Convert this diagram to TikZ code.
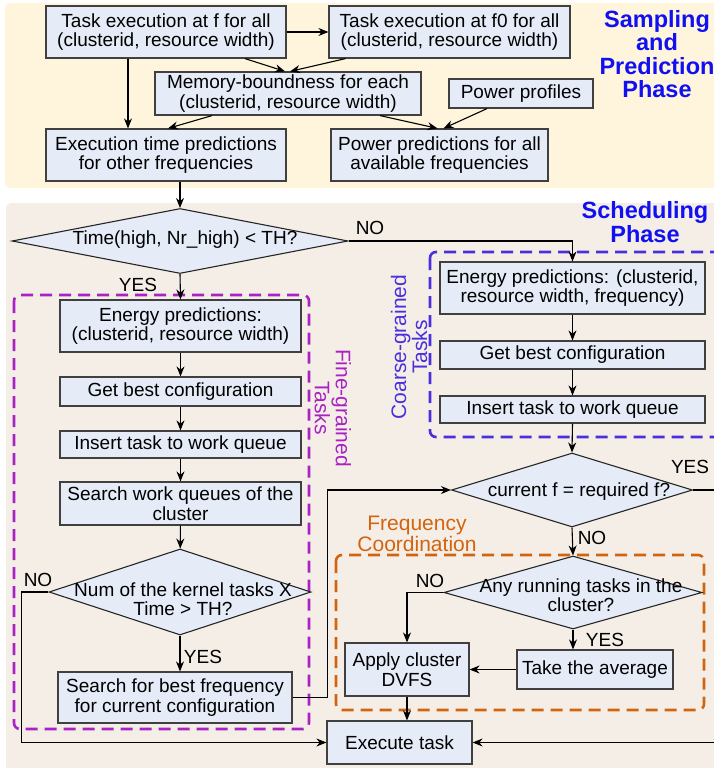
\documentclass[tikz,border=0pt]{standalone}
\usepackage{fontspec}
\setmainfont{Liberation Sans}
\usepackage{xcolor}
\usetikzlibrary{positioning,shapes,arrows.meta,shapes.geometric}

\definecolor{boxfill}{HTML}{E5ECF7}
\definecolor{creambg}{HTML}{FFF5DC}
\definecolor{beigebg}{HTML}{F5EEE7}
\definecolor{finecol}{HTML}{A822C4}
\definecolor{coarsecol}{HTML}{4A30DC}
\definecolor{freqcol}{HTML}{D2640F}
\definecolor{phasecol}{HTML}{1010F0}

\newcommand{\fsz}{\fontsize{19}{19.5}\selectfont}

\begin{document}
\begin{tikzpicture}[x=1pt,y=-1pt,
    box/.style={draw=black!75, line width=1.2pt, fill=boxfill, align=center, inner sep=1pt, font=\fsz},
    dec/.style={diamond, draw=black!85, line width=1.1pt, fill=boxfill, inner sep=0pt},
    txt/.style={align=center, inner sep=0pt, font=\fsz},
    lbl/.style={inner sep=0pt, font=\fsz},
    arr/.style={line width=1.1pt, -{Stealth[length=10pt,width=8pt]}},
    grp/.style={line width=2.6pt, dash pattern=on 12pt off 7pt, rounded corners=6pt},
    phase/.style={align=center, inner sep=0pt, text=phasecol, font=\fontsize{23.5}{23.5}\selectfont\bfseries}]
                \clip (0,0) rectangle (714,768);
                % backgrounds of the two phases
                \fill[creambg, rounded corners=5pt] (5,3) rectangle (740,188);
                \fill[beigebg, rounded corners=5pt] (6,203) rectangle (740,800);
                \node[phase] (sampling) at (657,54) {Sampling\\and\\Prediction\\Phase};
                \node[phase] (scheduling) at (645,222) {Scheduling\\Phase};

                % dashed task groups
                \draw[grp, finecol] (14,295) rectangle (309,729);
                \draw[grp, coarsecol] (430,252) rectangle (740,437);
                \draw[grp, freqcol] (336,555) rectangle (704,710);
                \node[txt, text=finecol, rotate=-90, font=\fontsize{21}{21}\selectfont] (finelbl) at (333,408) {Fine-grained\\Tasks};
                \node[txt, text=coarsecol, rotate=90, font=\fontsize{21}{21}\selectfont] (coarselbl) at (409,347) {Coarse-grained\\Tasks};
                \node[txt, text=freqcol, font=\fontsize{21}{21}\selectfont] (freqlbl) at (417,533.5) {Frequency\\Coordination};

                % sampling and prediction
                \node[box, minimum width=240pt, minimum height=52pt] (taskf) at (166,32) {Task execution at f for all\\(clusterid, resource width)};
                \node[box, minimum width=241pt, minimum height=52pt] (taskfz) at (449.5,32) {Task execution at f0 for all\\(clusterid, resource width)};
                \node[box, minimum width=266pt, minimum height=43pt] (membound) at (288,93.5) {Memory-boundness for each\\(clusterid, resource width)};
                \node[box, minimum width=144pt, minimum height=29pt] (powprof) at (521,93.5) {Power profiles};
                \node[box, minimum width=240pt, minimum height=52pt] (timepred) at (166,155) {Execution time predictions\\for other frequencies};
                \node[box, minimum width=217pt, minimum height=52pt] (powpred) at (439.5,155) {Power predictions for all\\available frequencies};

                % scheduling
                \node[dec, minimum width=336pt, minimum height=65pt] (dechigh) at (180,241) {};
                \node[txt] (dechight) at (185,240) {Time(high, Nr\_high) < TH?};

                \node[box, minimum width=241pt, minimum height=52pt] (enfine) at (180.5,326) {Energy predictions:\\(clusterid, resource width)};
                \node[box, minimum width=241pt, minimum height=29pt] (bestfine) at (180.5,391.5) {Get best configuration};
                \node[box, minimum width=241pt, minimum height=27pt] (insfine) at (180.5,444.5) {Insert task to work queue};
                \node[box, minimum width=241pt, minimum height=43pt] (search) at (180.5,503.5) {Search work queues of the\\cluster};
                \node[dec, minimum width=262pt, minimum height=86pt] (deckern) at (180,592) {};
                \node[txt] (deckernt) at (183,599) {Num of the kernel tasks X\\Time > TH?};
                \node[box, minimum width=234pt, minimum height=51pt] (bestfreq) at (175,697.5) {Search for best frequency\\for current configuration};

                \node[box, minimum width=265pt, minimum height=52pt] (encoarse) at (572.5,288) {Energy predictions: (clusterid,\\resource width, frequency)};
                \node[box, minimum width=265pt, minimum height=28pt] (bestcoarse) at (572.5,355) {Get best configuration};
                \node[box, minimum width=265pt, minimum height=27pt] (inscoarse) at (572.5,409.5) {Insert task to work queue};
                \node[dec, minimum width=241pt, minimum height=74pt] (decfreq) at (572,490) {};
                \node[txt] (decfreqt) at (579,492) {current f = required f?};
                \node[dec, minimum width=258pt, minimum height=73pt] (decrun) at (573,592.5) {};
                \node[txt] (decrunt) at (581,595) {Any running tasks in the\\cluster?};
                \node[box, minimum width=124pt, minimum height=53pt] (dvfs) at (407,669.5) {Apply cluster\\DVFS};
                \node[box, minimum width=156pt, minimum height=39pt] (avg) at (595,669.5) {Take the average};
                \node[box, minimum width=145pt, minimum height=43pt] (exec) at (399.5,742.5) {Execute task};

                % connectors, top phase
                \draw[arr] (taskf.east) -- (taskfz.west);
                \draw[arr] ([xshift=-38pt]taskf.south) -- ([xshift=-38pt]timepred.north);
                \draw[arr] ([xshift=79pt]taskf.south) -- ([xshift=-3pt]membound.north);
                \draw[arr] ([xshift=-104pt]taskfz.south) -- ([xshift=2pt]membound.north);
                \draw[arr] ([xshift=-76pt]membound.south) -- ([xshift=2pt]timepred.north);
                \draw[arr] ([xshift=92pt]membound.south) -- ([xshift=-2pt]powpred.north);
                \draw[arr] ([xshift=-34pt]powprof.south) -- ([xshift=4pt]powpred.north);
                \draw[arr] ([xshift=14pt]timepred.south) -- (dechigh.north);

                % connectors, scheduling phase
                \draw[arr] (dechigh.east) -| (encoarse.north);
                \draw[arr] (dechigh.south) -- (enfine.north);
                \draw[arr] (enfine) -- (bestfine);
                \draw[arr] (bestfine) -- (insfine);
                \draw[arr] (insfine) -- (search);
                \draw[arr] (search) -- (deckern);
                \draw[arr] (deckern.south) -- (deckern.south |- bestfreq.north);
                \draw[arr] (deckern.west) -- ++(-27,0) |- (exec.west);
                \draw[arr] (bestfreq.east) -- ++(35,0) |- (decfreq.west);
                \draw[arr] (encoarse) -- (bestcoarse);
                \draw[arr] (bestcoarse) -- (inscoarse);
                \draw[arr] (inscoarse.south) -- (decfreq.north);
                \draw[arr] (decfreq.east) -- ++(23,0) |- (exec.east);
                \draw[arr] (decfreq.south) -- (decrun.north);
                \draw[arr] (decrun.west) -| (dvfs.north);
                \draw[arr] (decrun.south) -- (decrun.south |- avg.north);
                \draw[arr] (avg.west) -- (dvfs.east);
                \draw[arr] (dvfs.south) -- (dvfs.south |- exec.north);

                % branch labels
                \node[lbl] (nohigh) at (370,228) {NO};
                \node[lbl] (yeshigh) at (138,285) {YES};
                \node[lbl] (nokern) at (38,580) {NO};
                \node[lbl] (yeskern) at (203,657) {YES};
                \node[lbl] (yesfreq) at (690,467) {YES};
                \node[lbl] (nofreq) at (592,538) {NO};
                \node[lbl] (norun) at (430,581) {NO};
                \node[lbl] (yesrun) at (605,640) {YES};
            \end{tikzpicture}
\end{document}
